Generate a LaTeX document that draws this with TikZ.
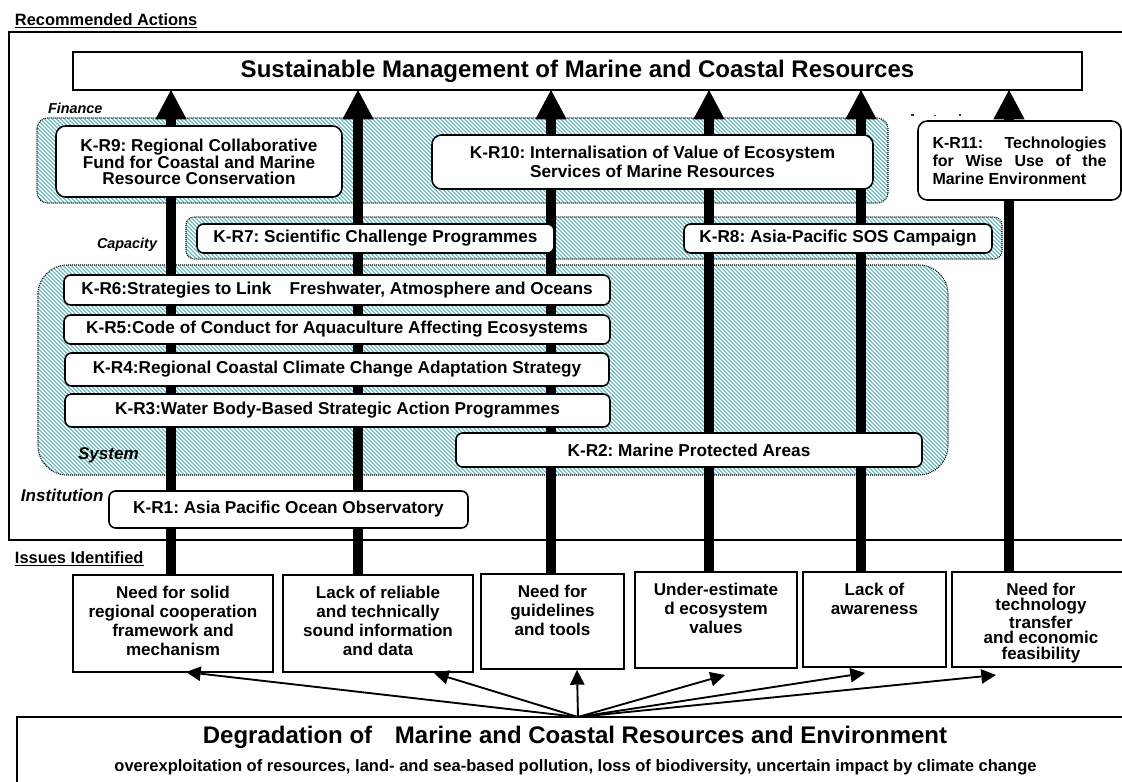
\documentclass[tikz,border=0pt]{standalone}
\usepackage{fontspec}
\setmainfont{Liberation Sans}
\usetikzlibrary{arrows.meta,patterns.meta}
\definecolor{hatchteal}{RGB}{118,196,201}
\frenchspacing

\begin{document}
\begin{tikzpicture}[x=0.75pt,y=-0.75pt,
  every node/.style={inner sep=0pt, outer sep=0pt},
  place/.style n args={4}{minimum width={(#3-#1)*0.75pt},minimum height={(#4-#2)*0.75pt},at={({(#1+#3)/2},{(#2+#4)/2})}},
  band/.style={draw, line width=0.8pt, dash pattern=on 0.75pt off 0.75pt,
    pattern={Lines[angle=-45,distance=2.1213pt,line width=1.0pt]}, pattern color=hatchteal},
  kbox/.style={draw, line width=1.2pt, fill=white, rounded corners=5pt, align=center,
    font=\bfseries\fontsize{12.9}{14}\selectfont},
  ibox/.style={draw, line width=1.2pt, fill=white},
  itext/.style={anchor=north, align=center, font=\bfseries\fontsize{12.8}{14.25}\selectfont},
  lbl/.style={anchor=base west, font=\bfseries\itshape\fontsize{12.8}{14}\selectfont},
  heading/.style={anchor=base west, font=\bfseries\fontsize{12.3}{14}\selectfont},
  bigarrow/.style={line width=7.5pt, -{Triangle[width=23.5pt,length=22pt,line width=0pt]}},
  fanarrow/.style={line width=1.4pt, -{Triangle[width=11pt,length=11pt,line width=0pt]}}
]
\clip (0,0) rectangle (1122,782);

% outer frame of the recommended actions
\draw[line width=1.2pt] (9,32) rectangle (1130,540);

% hatched groupings: finance, capacity, system
\draw[band, rounded corners=8pt] (37,118) rectangle (888,203);
\draw[band, rounded corners=6pt] (186,217) rectangle (1002,259);
\draw[band, rounded corners=22pt] (38,265) rectangle (948,475);

% goal
\node[draw, line width=1.5pt, fill=white, place={73}{52}{1082}{90},
  font=\bfseries\fontsize{18}{20}\selectfont] (goal)
  {Sustainable Management of Marine and Coastal Resources};

% issues identified
\node[ibox, place={73}{575}{273}{672}] (iss1) {};
\node[ibox, place={283}{575}{473}{672}] (iss2) {};
\node[ibox, place={481}{574}{624}{669}] (iss3) {};
\node[ibox, place={635}{572}{797}{668}] (iss4) {};
\node[ibox, place={803}{572}{946}{667}] (iss5) {};
\node[ibox, place={952}{572}{1130}{667}] (iss6) {};

\node[itext] (iss1t) at (173,586) {Need for solid\\regional cooperation\\framework and\\mechanism};
\node[itext] (iss2t) at (378,586) {Lack of reliable\\and technically\\sound information\\and data};
\node[itext] (iss3t) at (552.5,585) {Need for\\guidelines\\and tools};
\node[itext] (iss4t) at (716,583) {Under-estimate\\d ecosystem\\values};
\node[itext] (iss5t) at (874.5,583) {Lack of\\awareness};
\node[itext, font=\bfseries\fontsize{12.8}{11.6}\selectfont] (iss6t) at (1041,583)
  {Need for\\technology\\transfer\\and economic\\feasibility};

% root cause
\node[ibox, place={17}{717}{1130}{800}] (deg) {};
\node[font=\bfseries\fontsize{18}{20}\selectfont] (degtitle) at (575,737)
  {Degradation of\hspace{0.95em}Marine and Coastal Resources and Environment};
\node[font=\bfseries\fontsize{12.4}{14}\selectfont] (degsub) at (575.5,767)
  {overexploitation of resources, land- and sea-based pollution, loss of biodiversity, uncertain impact by climate change};

% thick arrows from each issue up to the goal
\foreach \n/\x in {1/171, 2/358, 3/551, 4/709, 5/861, 6/1009} {
  \coordinate (col\n) at (\x,0);
  \draw[bigarrow] (iss\n.north -| col\n) -- (goal.south -| col\n);
}

% recommended actions
\node[kbox, rounded corners=7pt, place={56}{126}{342}{197},
  font=\bfseries\fontsize{12.9}{11.7}\selectfont] (kr9)
  {K-R9: Regional Collaborative\\Fund for Coastal and Marine\\Resource Conservation};
\node[kbox, rounded corners=7pt, place={432}{135}{873}{189}] (kr10)
  {K-R10: Internalisation of Value of Ecosystem\\Services of Marine Resources};
\node[kbox, rounded corners=7pt, place={918}{121}{1121}{200}, align=left,
  font=\bfseries\fontsize{12}{13.5}\selectfont] (kr11)
  {\makebox[130.5pt][s]{K-R11: Technologies}\\\makebox[130.5pt][s]{for Wise Use of the}\\Marine Environment};
\node[kbox, place={197}{224}{554}{253}] (kr7) {K-R7: Scientific Challenge Programmes};
\node[kbox, place={684}{224}{992}{253}] (kr8) {K-R8: Asia-Pacific SOS Campaign};
\node[kbox, place={64}{275}{610}{305}] (kr6) {K-R6:Strategies to Link\hspace{1.05em}Freshwater, Atmosphere and Oceans};
\node[kbox, place={64}{315}{610}{344}] (kr5) {K-R5:Code of Conduct for Aquaculture Affecting Ecosystems};
\node[kbox, place={65}{353}{609}{386}] (kr4) {K-R4:Regional Coastal Climate Change Adaptation Strategy};
\node[kbox, place={65}{394}{610}{427}] (kr3) {K-R3:Water Body-Based Strategic Action Programmes};
\node[kbox, place={456}{433}{922}{467}] (kr2) {K-R2: Marine Protected Areas};
\node[kbox, place={109}{491}{468}{528}] (kr1) {K-R1: Asia Pacific Ocean Observatory};

% group labels
\node[heading] (recact) at (15,25) {\underline{Recommended Actions}};
\node[heading] (issid) at (15,563) {\underline{Issues Identified}};
\node[lbl, font=\bfseries\itshape\fontsize{10.8}{12}\selectfont] (fin) at (48,113) {Finance};
\node[lbl, font=\bfseries\itshape\fontsize{10.8}{12}\selectfont] (capa) at (97,248) {Capacity};
\node[lbl] (sys) at (78,459) {System};
\node[lbl] (inst) at (21,501) {Institution};

% small marks above K-R11
\fill[black!80] (911,114.3) rectangle (914,115.8);
\fill[black!80] (934,114.8) rectangle (936,116.3);
\fill[black!80] (959,114.3) rectangle (961,115.8);

% thin arrows from the root cause to each issue
\coordinate (fan) at (578,717);
\coordinate (tip1) at (186,672);
\coordinate (tip2) at (434,673);
\coordinate (tip3) at (577,670);
\coordinate (tip4) at (725,675);
\coordinate (tip5) at (865,673);
\coordinate (tip6) at (996,675);
\foreach \t in {1,...,6} \draw[fanarrow] (fan) -- (tip\t);
\end{tikzpicture}
\end{document}
